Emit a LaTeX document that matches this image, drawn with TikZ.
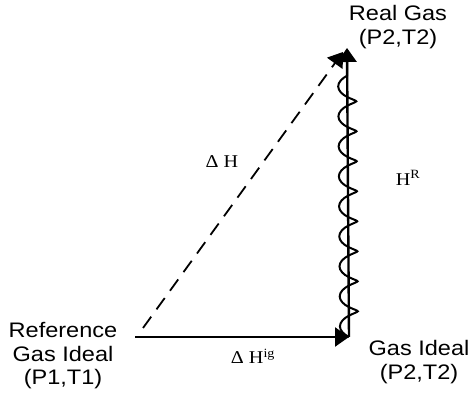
\documentclass[tikz,border=0pt]{standalone}
\usepackage{fontspec}
\setmainfont[FakeStretch=1.12]{Liberation Sans}
\newfontfamily\symfont[FakeStretch=1.12]{Liberation Serif}
\usetikzlibrary{arrows.meta, decorations.pathmorphing}

\begin{document}
\begin{tikzpicture}[
    x=1pt, y=-1pt,
    state/.style={align=center, inner sep=0pt,
                  font=\fontsize{21}{23.5}\selectfont},
    quant/.style={inner sep=0pt, font=\symfont\fontsize{18}{20}\selectfont},
    path/.style={draw, line width=2.4pt, -{Triangle[length=14pt, width=19pt]}},
    dpath/.style={draw, line width=1.8pt, dash pattern=on 14pt off 9pt,
                  -{Triangle[length=14pt, width=19pt]}},
    spring/.style={draw, line width=2pt, decorate,
                   decoration={coil, amplitude=9pt, segment length=30pt, aspect=0.35}},
    >=Triangle
  ]
  \useasboundingbox (0,0) rectangle (472,398);

  % states
  \node[state] (ref) at (63,356) {Reference\\Gas Ideal\\(P1,T1)};
  \node[state] (real) at (398,27) {Real Gas\\(P2,T2)};
  \node[state] (ideal) at (419,362) {Gas Ideal\\(P2,T2)};

  % path ends
  \coordinate (o) at (135,337);
  \coordinate (od) at (143,328);
  \coordinate (a) at (349,337);
  \coordinate (b) at (347,48);
  \coordinate (bd) at (343,52);
  \coordinate (c) at (347,62);

  % paths
  \draw[path] (o) -- (a);
  \draw[spring] (a) -- (c);
  \draw[path] (a) -- (b);
  \draw[dpath] (od) -- (bd);

  % labels
  \node[quant] (dh) at (222,162) {Δ H};
  \node[quant] (hr) at (408,178) {H\textsuperscript{R}};
  \node[quant] (dhig) at (253,356) {Δ H\textsuperscript{ig}};
\end{tikzpicture}
\end{document}
